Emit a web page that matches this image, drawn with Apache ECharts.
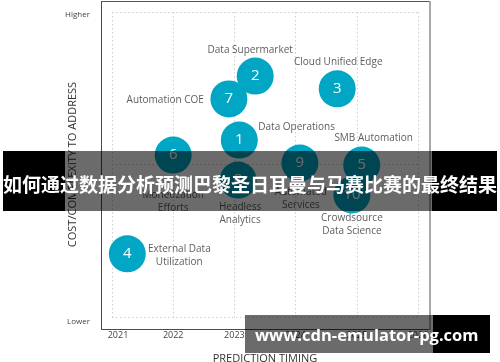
<!DOCTYPE html>
<html>
<head>
<meta charset="utf-8">
<script src="https://cdn.jsdelivr.net/npm/echarts@6/dist/echarts.min.js"></script>
<style>html,body{margin:0;padding:0;background:#fff;}#main{width:500px;height:362px;}</style>
</head>
<body>
<div id="main"></div>
<script>
// ---- data ----
const ids = ['1','2','3','4','5','6','7','8','9','10'];
const timing = [2023.08, 2023.34, 2024.68, 2021.25, 2025.08, 2022.0, 2022.91, 2023.06, 2024.07, 2024.92];
const complexity = [5.80, 7.90, 7.48, 2.07, 4.98, 5.31, 7.15, 4.49, 5.05, 4.00];
const names = ['Data Operations','Data Supermarket','Cloud Unified Edge','External Data\nUtilization','SMB Automation','Monetization\nEfforts','Automation COE','Headless\nAnalytics','Automated\nServices','Crowdsource\nData Science'];
const xTicks = [2021, 2022, 2023, 2024, 2025, 2026];
const yTickLabels = {0: 'Lower', 10: 'Higher'};
const xName = 'PREDICTION TIMING';
const yName = 'COST/COMPLEXITY TO ADDRESS';
const bannerText = '如何通过数据分析预测巴黎圣日耳曼与马赛比赛的最终结果';
const watermarkText = 'www.cdn-emulator-pg.com';

// ---- label layout (style only) ----
const labelLayout = [
  {align:'left', offset:[19,-13]},
  {align:'center', offset:[-5,-26]},
  {align:'center', offset:[1,-27]},
  {align:'center', offset:[52,1.5]},
  {align:'center', offset:[12,-27]},
  {align:'center', offset:[0,46.5]},
  {align:'right', offset:[-25,1]},
  {align:'center', offset:[2,33.5]},
  {align:'center', offset:[1,36]},
  {align:'center', offset:[0,29.5]}
];

const FONT = "'Open Sans', 'Noto Sans', sans-serif";
const chart = echarts.init(document.getElementById('main'), null, {renderer:'canvas'});

const bubbleData = ids.map((id, i) => ({value:[timing[i], complexity[i]], name:id}));
const nameData = ids.map((id, i) => ({
  value:[timing[i], complexity[i]],
  name:names[i],
  label:{align:labelLayout[i].align, offset:labelLayout[i].offset}
}));

const option = {
  animation:false,
  backgroundColor:'#fff',
  grid:{left:112, right:82, top:12, bottom:45, containLabel:false, outerBoundsMode:'none'},
  xAxis:{
    type:'value', min:xTicks[0], max:xTicks[xTicks.length-1], interval:1,
    axisLine:{show:false}, axisTick:{show:false},
    splitLine:{show:true, lineStyle:{color:'#cfcfcf', type:[1.5,2.5], width:1}},
    axisLabel:{
      margin:14, fontSize:9, color:'#444', fontFamily:FONT,
      formatter:function(v){ return v === xTicks[0] ? '{f|' + v + '}' : String(v); },
      rich:{f:{fontSize:9, color:'#444', fontFamily:FONT, padding:[0,0,0,12]}}
    },
    name:xName, nameLocation:'middle', nameGap:36, nameMoveOverlap:false,
    nameTextStyle:{fontSize:11, color:'#333', fontFamily:FONT}
  },
  yAxis:{
    type:'value', min:0, max:10, interval:5,
    axisLine:{show:false}, axisTick:{show:false},
    splitLine:{show:true, lineStyle:{color:'#cfcfcf', type:[1.5,2.5], width:1}},
    axisLabel:{
      margin:22, fontSize:8, color:'#444', fontFamily:FONT,
      formatter:function(v){
        if (v === 10) return '{h|' + yTickLabels[10] + '}';
        if (v === 0) return '{l|' + yTickLabels[0] + '}';
        return '';
      },
      rich:{
        h:{fontSize:8, color:'#444', fontFamily:FONT, padding:[6,0,0,0]},
        l:{fontSize:8, color:'#444', fontFamily:FONT, padding:[10,0,0,0]}
      }
    },
    name:yName, nameLocation:'middle', nameGap:34, nameRotate:90, nameMoveOverlap:false,
    nameTextStyle:{fontSize:11, color:'#333', fontFamily:FONT}
  },
  series:[
    {
      type:'scatter', data:bubbleData, symbolSize:37, z:2,
      itemStyle:{color:'#00a6c4', opacity:1},
      label:{show:true, position:'inside', formatter:'{b}', color:'#fff', fontSize:15, fontFamily:FONT}
    },
    {
      type:'scatter', data:nameData, symbolSize:1, z:3,
      itemStyle:{color:'transparent'},
      silent:true,
      label:{show:true, position:'inside', formatter:'{b}', color:'#333', fontSize:10, lineHeight:13, fontFamily:FONT}
    }
  ],
  graphic:[
    // frame
    {type:'line', z:10, shape:{x1:101.5,y1:2,x2:101.5,y2:329.5}, style:{stroke:'#4a4a4a', lineWidth:1}},
    {type:'line', z:10, shape:{x1:101,y1:329.5,x2:430,y2:329.5}, style:{stroke:'#4a4a4a', lineWidth:1}},
    {type:'line', z:10, shape:{x1:101,y1:1.5,x2:430,y2:1.5}, style:{stroke:'#555', lineWidth:1}},
    {type:'line', z:10, shape:{x1:430,y1:1,x2:430,y2:330}, style:{stroke:'#a8a8a8', lineWidth:2}},
    // banner
    {type:'rect', z:100, shape:{x:3,y:151,width:62,height:60}, style:{fill:'#000'}},
    {type:'rect', z:100, shape:{x:65,y:151,width:367,height:60}, style:{fill:'rgba(0,0,0,0.58)'}},
    {type:'rect', z:100, shape:{x:432,y:151,width:65,height:60}, style:{fill:'#000'}},
    {type:'text', z:101, style:{x:250, y:185, text:bannerText, fill:'#fff', font:"bold 19px 'Noto Sans CJK SC'", textAlign:'center', textVerticalAlign:'middle'}},
    // watermark
    {type:'rect', z:100, shape:{x:245,y:315,width:188,height:38}, style:{fill:'rgba(0,0,0,0.58)'}},
    {type:'rect', z:100, shape:{x:433,y:315,width:57,height:38}, style:{fill:'#000'}},
    {type:'text', z:101, style:{x:255, y:336, text:watermarkText, fill:'#fff', font:"bold 16.5px 'Open Sans'", textAlign:'left', textVerticalAlign:'middle'}}
  ]
};
chart.setOption(option);
</script>
</body>
</html>
